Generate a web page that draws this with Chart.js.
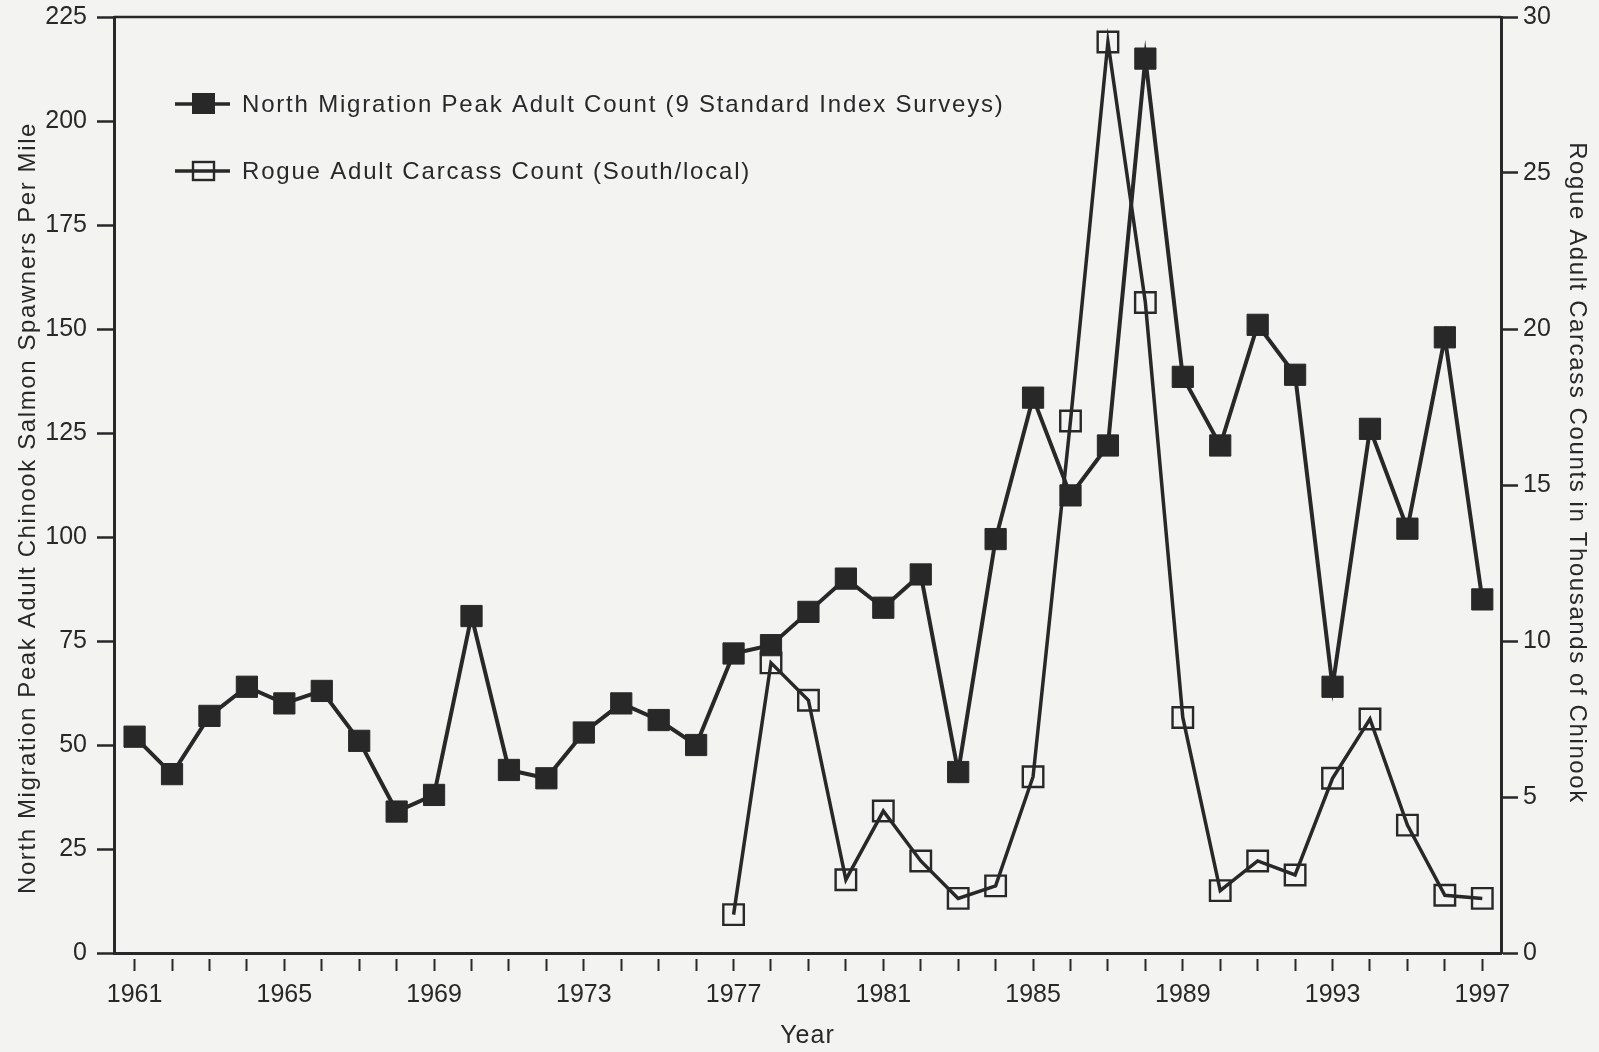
<!DOCTYPE html>
<html>
<head>
<meta charset="utf-8">
<title>Chinook Salmon Spawner Counts 1961-1997</title>
<script src="https://cdn.jsdelivr.net/npm/chart.js@4.4.1/dist/chart.umd.min.js"></script>
<style>
  html, body { margin: 0; padding: 0; background: #f3f3f1; }
  #wrap { width: 1599px; height: 1052px; position: relative; }
  canvas { display: block; }
</style>
</head>
<body>
<div id="wrap"><canvas id="chart" width="1599" height="1052"></canvas></div>
<script>
// Survey years
const years = [1961, 1962, 1963, 1964, 1965, 1966, 1967, 1968, 1969, 1970,
               1971, 1972, 1973, 1974, 1975, 1976, 1977, 1978, 1979, 1980,
               1981, 1982, 1983, 1984, 1985, 1986, 1987, 1988, 1989, 1990,
               1991, 1992, 1993, 1994, 1995, 1996, 1997];

// North migration peak adult count, spawners per mile (left axis)
const northPeakPerMile = [52, 43, 57, 64, 60, 63, 51, 34, 38, 81,
                          44, 42, 53, 60, 56, 50, 72, 74, 82, 90,
                          83, 91, 43.5, 99.5, 133.5, 110, 122, 215, 138.5, 122,
                          151, 139, 64, 126, 102, 148, 85];

// Rogue adult carcass count, thousands of fish (right axis); survey begins 1977
const rogueCarcassThousands = [null, null, null, null, null, null, null, null, null, null,
                               null, null, null, null, null, null, 1.23, 9.3, 8.1, 2.35,
                               4.55, 2.95, 1.75, 2.15, 5.65, 17.05, 29.2, 20.85, 7.55, 2.0,
                               2.95, 2.5, 5.6, 7.5, 4.1, 1.85, 1.75];

// Axis tick labels
const yearTickLabels = [1961, 1965, 1969, 1973, 1977, 1981, 1985, 1989, 1993, 1997];
const leftTickValues = [0, 25, 50, 75, 100, 125, 150, 175, 200, 225];
const rightTickValues = [0, 5, 10, 15, 20, 25, 30];

// Series names and axis titles
const northLabel = 'North Migration Peak Adult Count (9 Standard Index Surveys)';
const rogueLabel = 'Rogue Adult Carcass Count (South/local)';
const leftAxisTitle = 'North Migration Peak Adult Chinook Salmon Spawners Per Mile';
const rightAxisTitle = 'Rogue Adult Carcass Counts in Thousands of Chinook';
const xAxisTitle = 'Year';

const INK = '#282828';
const PAPER = '#f3f3f1';
const FONT = '"Liberation Sans", Arial, sans-serif';
const TICK_FONT = { family: FONT, size: 25 };

// Paper background, top frame line, axis titles and the in-plot legend
const framePlugin = {
  id: 'frame',
  beforeDraw(chart) {
    const ctx = chart.ctx;
    ctx.save();
    ctx.fillStyle = PAPER;
    ctx.fillRect(0, 0, chart.width, chart.height);
    ctx.restore();
  },
  afterDraw(chart) {
    const { ctx, chartArea: a } = chart;
    ctx.save();
    ctx.strokeStyle = INK;
    ctx.lineWidth = 2.5;
    ctx.beginPath();
    ctx.moveTo(a.left, a.top);
    ctx.lineTo(a.right, a.top);
    ctx.stroke();

    ctx.fillStyle = INK;
    ctx.font = '24px ' + FONT;
    ctx.letterSpacing = '1.6px';
    ctx.textAlign = 'center';
    ctx.textBaseline = 'middle';

    ctx.save();
    ctx.translate(28, 508);
    ctx.rotate(-Math.PI / 2);
    ctx.fillText(leftAxisTitle, 0, 0);
    ctx.restore();

    ctx.save();
    ctx.translate(1577, 473);
    ctx.rotate(Math.PI / 2);
    ctx.fillText(rightAxisTitle, 0, 0);
    ctx.restore();

    ctx.font = '25px ' + FONT;
    ctx.letterSpacing = '1px';
    ctx.fillText(xAxisTitle, (a.left + a.right) / 2, 1036);

    // legend
    ctx.font = '24px ' + FONT;
    ctx.letterSpacing = '1.8px';
    const rows = [104, 171];
    chart.data.datasets.forEach((ds, i) => {
      const y = rows[i];
      ctx.strokeStyle = INK;
      ctx.lineWidth = 3.5;
      ctx.beginPath();
      ctx.moveTo(175, y);
      ctx.lineTo(230, y);
      ctx.stroke();
      if (ds.pointBackgroundColor === INK) {
        ctx.fillStyle = INK;
        ctx.fillRect(192, y - 11, 23, 21);
      } else {
        ctx.lineWidth = 2.4;
        ctx.strokeRect(193, y - 9, 21, 18);
      }
      ctx.fillStyle = INK;
      ctx.textAlign = 'left';
      ctx.fillText(ds.label, 242, y + 1);
    });
    ctx.restore();
  }
};

const northPoints = years.map((yr, i) => ({ x: yr, y: northPeakPerMile[i] }));
const roguePoints = years.map((yr, i) => ({ x: yr, y: rogueCarcassThousands[i] }));

function fixedWidth(w) {
  return s => { s.width = w; s.paddingTop = 0; s.paddingBottom = 0; };
}

new Chart(document.getElementById('chart'), {
  type: 'line',
  data: {
    datasets: [
      {
        label: northLabel,
        data: northPoints,
        yAxisID: 'yLeft',
        borderColor: INK,
        borderWidth: 4,
        pointStyle: 'rect',
        pointRadius: 15,
        pointBorderWidth: 1,
        pointBackgroundColor: INK,
        pointBorderColor: INK,
        tension: 0
      },
      {
        label: rogueLabel,
        data: roguePoints,
        yAxisID: 'yRight',
        borderColor: INK,
        borderWidth: 3.5,
        pointStyle: 'rect',
        pointRadius: 14.5,
        pointBorderWidth: 2.4,
        pointBackgroundColor: 'rgba(0,0,0,0)',
        pointBorderColor: INK,
        spanGaps: false,
        tension: 0
      }
    ]
  },
  options: {
    responsive: false,
    animation: false,
    devicePixelRatio: 1,
    layout: { padding: { top: 17, left: 0, right: 0, bottom: 0 } },
    plugins: {
      legend: { display: false },
      tooltip: { enabled: false },
      title: { display: false }
    },
    scales: {
      x: {
        type: 'linear',
        min: 1960.45,
        max: 1997.5,
        afterFit: s => { s.height = 99; },
        afterBuildTicks: s => { s.ticks = years.map(v => ({ value: v })); },
        border: { display: true, color: INK, width: 3 },
        grid: {
          drawOnChartArea: false,
          drawTicks: true,
          tickLength: 18,
          tickWidth: 2,
          tickColor: INK,
          tickBorderDash: [0, 4, 14, 60]
        },
        ticks: {
          autoSkip: false,
          maxRotation: 0,
          padding: 9,
          color: INK,
          font: TICK_FONT,
          callback: v => (yearTickLabels.includes(v) ? String(v) : '')
        }
      },
      yLeft: {
        type: 'linear',
        position: 'left',
        min: 0,
        max: 225,
        afterFit: fixedWidth(114),
        afterBuildTicks: s => { s.ticks = leftTickValues.map(v => ({ value: v })); },
        border: { display: true, color: INK, width: 3 },
        grid: {
          drawOnChartArea: false,
          drawTicks: true,
          tickLength: 17,
          tickWidth: 2.5,
          tickColor: INK
        },
        ticks: {
          padding: 10,
          color: INK,
          font: TICK_FONT
        }
      },
      yRight: {
        type: 'linear',
        position: 'right',
        min: 0,
        max: 30,
        afterFit: fixedWidth(98),
        afterBuildTicks: s => { s.ticks = rightTickValues.map(v => ({ value: v })); },
        border: { display: true, color: INK, width: 3 },
        grid: {
          drawOnChartArea: false,
          drawTicks: true,
          tickLength: 17,
          tickWidth: 2.5,
          tickColor: INK
        },
        ticks: {
          padding: 5,
          color: INK,
          font: TICK_FONT
        }
      }
    }
  },
  plugins: [framePlugin]
});
</script>
</body>
</html>
